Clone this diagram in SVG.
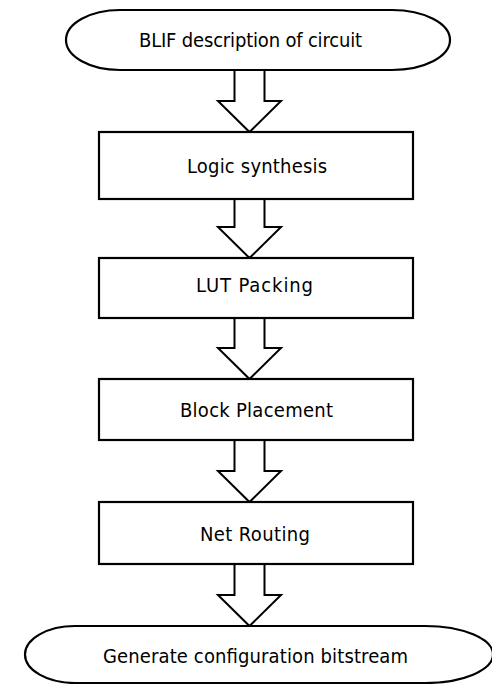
<svg xmlns="http://www.w3.org/2000/svg" width="492" height="684" viewBox="0 0 492 684">
  <defs>
    <style>
      .shape { fill: #ffffff; stroke: #000000; stroke-width: 2.2; }
      .flow { fill: #ffffff; stroke: #000000; stroke-width: 2; stroke-linejoin: miter; }
      .label { font-family: "DejaVu Sans Condensed", "DejaVu Sans", "Liberation Sans", sans-serif; font-size: 20px; fill: #000000; text-anchor: middle; }
    </style>
    <!-- block arrow pointing down; origin at the tip, length 62 -->
    <path id="blockArrow" d="M -15,-62 H 15 V -31 H 31.5 L 0,0 L -31.5,-31 H -15 Z"/>
  </defs>
  <rect width="492" height="684" fill="#ffffff"/>

  <g id="connectors">
    <use href="#blockArrow" class="flow" x="249.5" y="132"/>
    <use href="#blockArrow" class="flow" x="249.5" y="258"/>
    <use href="#blockArrow" class="flow" x="249.5" y="379"/>
    <use href="#blockArrow" class="flow" x="249.5" y="502"/>
    <use href="#blockArrow" class="flow" x="249.5" y="626"/>
  </g>

  <g id="blif">
    <path class="shape" d="M 120,10 H 392 A 58,30 0 0 1 392,70 H 120 A 54,30 0 0 1 120,10 Z"/>
    <text class="label" x="250.5" y="47" textLength="223" lengthAdjust="spacing">BLIF description of circuit</text>
  </g>

  <g id="synthesis">
    <rect class="shape" x="99" y="132" width="314" height="67"/>
    <text class="label" x="257" y="173" textLength="140" lengthAdjust="spacing">Logic synthesis</text>
  </g>

  <g id="packing">
    <rect class="shape" x="99" y="258" width="314" height="60"/>
    <text class="label" x="254.5" y="292" textLength="117" lengthAdjust="spacing">LUT Packing</text>
  </g>

  <g id="placement">
    <rect class="shape" x="99" y="379" width="314" height="61"/>
    <text class="label" x="256.5" y="417" textLength="153" lengthAdjust="spacing">Block Placement</text>
  </g>

  <g id="routing">
    <rect class="shape" x="99" y="502" width="314" height="62"/>
    <text class="label" x="255" y="541" textLength="110" lengthAdjust="spacing">Net Routing</text>
  </g>

  <g id="bitstream">
    <path class="shape" d="M 75,626 H 425 A 68,28.5 0 0 1 425,683 H 75 A 50,28.5 0 0 1 75,626 Z"/>
    <text class="label" x="255.5" y="663" textLength="305" lengthAdjust="spacing">Generate configuration bitstream</text>
  </g>
</svg>
